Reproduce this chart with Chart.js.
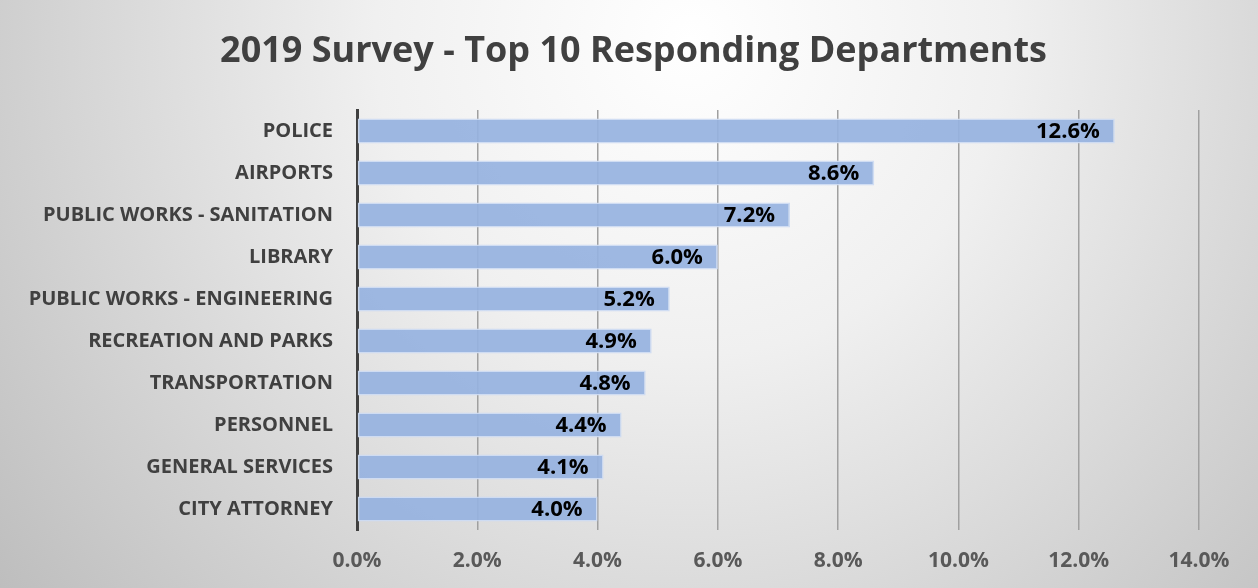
<!DOCTYPE html>
<html>
<head>
<meta charset="utf-8">
<script src="https://cdn.jsdelivr.net/npm/chart.js@4.4.1/dist/chart.umd.min.js"></script>
<style>
  html,body{margin:0;padding:0;background:#fff;}
  #wrap{position:relative;width:1258px;height:588px;}
  canvas{display:block;}
</style>
</head>
<body>
<div id="wrap"><canvas id="c" width="1258" height="588"></canvas></div>
<script>
const chartTitle = '2019 Survey - Top 10 Responding Departments';
const departments = ['POLICE','AIRPORTS','PUBLIC WORKS - SANITATION','LIBRARY','PUBLIC WORKS - ENGINEERING','RECREATION AND PARKS','TRANSPORTATION','PERSONNEL','GENERAL SERVICES','CITY ATTORNEY'];
const shares = [12.6, 8.6, 7.2, 6.0, 5.2, 4.9, 4.8, 4.4, 4.1, 4.0];
const xTicks = [0, 2, 4, 6, 8, 10, 12, 14];

const FONT = '"Open Sans", Lato, sans-serif';

const bgPlugin = {
  id: 'bg',
  beforeDraw(chart) {
    const ctx = chart.ctx, w = chart.width, h = chart.height;
    ctx.save();
    const g = ctx.createRadialGradient(690, 40, 0, 690, 40, 900);
    g.addColorStop(0, '#ffffff');
    g.addColorStop(0.35, '#f0f0f0');
    g.addColorStop(1, '#bcbcbc');
    ctx.fillStyle = g;
    ctx.fillRect(0, 0, w, h);
    ctx.restore();
  }
};

const titlePlugin = {
  id: 'centeredTitle',
  afterDraw(chart) {
    const ctx = chart.ctx;
    ctx.save();
    ctx.font = 'bold 36px ' + FONT;
    ctx.fillStyle = '#404040';
    ctx.textAlign = 'center';
    ctx.textBaseline = 'middle';
    ctx.fillText(chartTitle, 633.5, 52);
    ctx.restore();
  }
};

const labelPlugin = {
  id: 'barLabels',
  afterDatasetsDraw(chart) {
    const ctx = chart.ctx;
    const meta = chart.getDatasetMeta(0);
    ctx.save();
    ctx.font = 'bold 22px ' + FONT;
    ctx.fillStyle = '#000000';
    ctx.textAlign = 'right';
    ctx.textBaseline = 'middle';
    meta.data.forEach((bar, i) => {
      ctx.fillText(shares[i].toFixed(1) + '%', bar.x - 15, bar.y + 1);
    });
    ctx.restore();
  }
};

new Chart(document.getElementById('c'), {
  type: 'bar',
  data: {
    labels: departments,
    datasets: [{
      data: shares,
      backgroundColor: 'rgba(150,178,224,0.92)',
      borderColor: 'rgba(205,219,242,0.95)',
      borderWidth: 1.5,
      borderSkipped: false,
      barPercentage: 0.6,
      categoryPercentage: 1.0
    }]
  },
  options: {
    indexAxis: 'y',
    responsive: false,
    animation: false,
    layout: { padding: { left: 0, right: 59, top: 110, bottom: 0 } },
    plugins: {
      legend: { display: false },
      tooltip: { enabled: false },
      title: { display: false }
    },
    scales: {
      x: {
        min: 0, max: 14,
        afterBuildTicks(axis) { axis.ticks = xTicks.map(v => ({ value: v })); },
        ticks: {
          callback: v => v.toFixed(1) + '%',
          color: '#595959',
          font: { family: FONT, size: 21, weight: 'bold' },
          padding: 18
        },
        grid: { color: '#a0a0a0', lineWidth: 1.5, drawTicks: false },
        border: { display: false },
        afterFit(axis) { axis.height = 58; }
      },
      y: {
        ticks: {
          color: '#404040',
          font: { family: FONT, size: 20, weight: 'bold' },
          padding: 24
        },
        grid: { display: false, drawTicks: false },
        border: { display: true, color: '#404040', width: 3 },
        afterFit(axis) { axis.width = 357; }
      }
    }
  },
  plugins: [bgPlugin, labelPlugin, titlePlugin]
});
</script>
</body>
</html>
